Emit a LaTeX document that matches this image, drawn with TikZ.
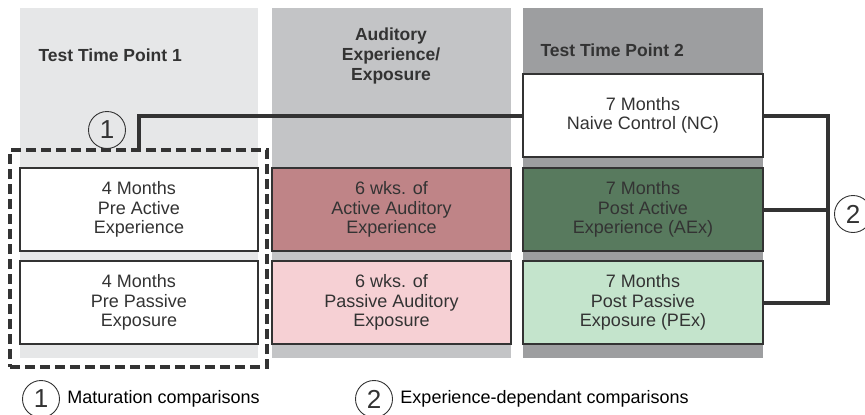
\documentclass[tikz,border=0pt]{standalone}
\usepackage{fontspec}
\setmainfont{Liberation Sans}
\usetikzlibrary{positioning}
\definecolor{BG_A}{HTML}{E6E7E8}
\definecolor{BG_B}{HTML}{C3C4C6}
\definecolor{BG_C}{HTML}{9D9EA0}
\definecolor{RED}{HTML}{BF8487}
\definecolor{RED_A}{HTML}{F6D0D4}
\definecolor{GREEN}{HTML}{587A5E}
\definecolor{GREEN_A}{HTML}{C4E4CC}
\definecolor{INK}{HTML}{333333}
\tikzset{
	every node/.style = {font=\fontsize{18}{19.5}\selectfont, text=INK},
	group/.style = {draw=INK, line width=2pt, minimum width=238, minimum height=83, align=center, inner sep=0pt},
	head/.style = {font=\fontsize{17.5}{20}\selectfont\bfseries, align=center},
	num/.style = {circle, draw=INK, line width=0.9pt, minimum size=37, inner sep=0pt, font=\fontsize{26}{26}\selectfont},
	link/.style = {line width=4pt, draw=INK}
}

\begin{document}
\begin{tikzpicture}[x=1pt, y=-1pt]
		\useasboundingbox (0,0) rectangle (865,415);
		% columns
		\fill[BG_A] (20,8) rectangle (258,358);
		\fill[BG_B] (272,8) rectangle (511,358);
		\fill[BG_C] (523,8) rectangle (763,358);
		\node[head, anchor=west] (h1) at (35,55) {Test Time Point 1};
		\node[head] (h2) at (391,56) {Auditory\\Experience/\\Exposure};
		\node[head, anchor=west] (h3) at (537,50) {Test Time Point 2};

		% test time point 1
		\node[group, fill=white] (pa) at (139,209.5) {4 Months\\Pre Active\\Experience};
		\node[group, fill=white] (pp) at (139,302.5) {4 Months\\Pre Passive\\Exposure};
		% experience
		\node[group, fill=RED, minimum width=239] (ea) at (391.5,209.5) {6 wks. of\\Active Auditory\\Experience};
		\node[group, fill=RED_A, minimum width=239] (ep) at (391.5,302.5) {6 wks. of\\Passive Auditory\\Exposure};
		% test time point 2
		\node[group, fill=white, minimum width=240] (nc) at (643,115.5) {7 Months\\Naive Control (NC)};
		\node[group, fill=GREEN, minimum width=240] (aex) at (643,209.5) {7 Months\\Post Active\\Experience (AEx)};
		\node[group, fill=GREEN_A, minimum width=240] (pex) at (643,302.5) {7 Months\\Post Passive\\Exposure (PEx)};

		% comparison 1
		\node[draw=INK, line width=4pt, dash pattern=on 10pt off 5pt, minimum width=257, minimum height=217] (mat) at (138.5,258.5) {};
		\draw[link] (mat.north) |- (nc.west);
		\node[num] (c1) at (107,130) {1};

		% comparison 2
		\coordinate (brk) at (828,0);
		\draw[link] (nc.east) -| (brk |- pex.east) -- (pex.east);
		\draw[link] (aex.east) -- (aex.east -| brk);
		\node[num] (c2) at (853,214) {2};

		% key
		\node[num] (k1) at (41,399) {1};
		\node[right=4pt of k1, text=black] (k1txt) {Maturation comparisons};
		\node[num] (k2) at (374,399) {2};
		\node[right=4pt of k2, text=black] (k2txt) {Experience-dependant comparisons};
	\end{tikzpicture}
\end{document}
